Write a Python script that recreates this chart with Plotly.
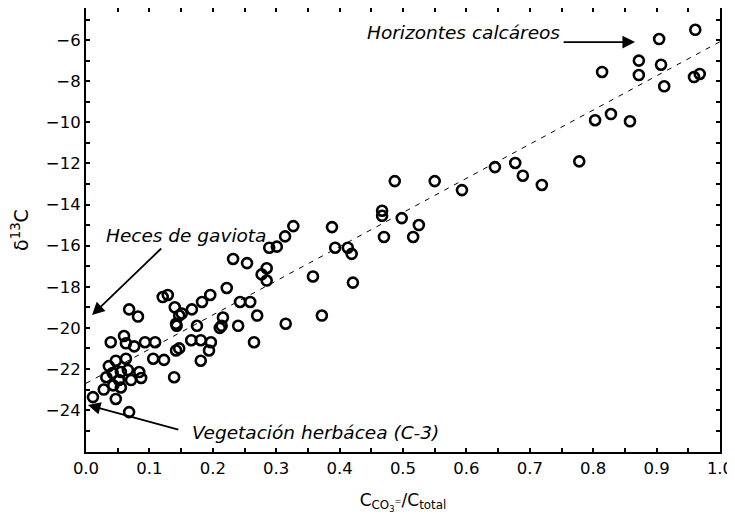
import plotly.graph_objects as go

# Data
x_ratio = [0.961, 0.904, 0.872, 0.907, 0.872, 0.814, 0.959, 0.968, 0.912, 0.803,
           0.828, 0.858, 0.645, 0.677, 0.689, 0.719, 0.778, 0.487, 0.550, 0.593,
           0.467, 0.467, 0.498, 0.525, 0.470, 0.516, 0.388, 0.393, 0.413, 0.419,
           0.421, 0.358, 0.327, 0.314, 0.301, 0.289, 0.232, 0.254, 0.285, 0.277,
           0.285, 0.222, 0.196, 0.183, 0.243, 0.259, 0.270, 0.216, 0.240, 0.214,
           0.175, 0.167, 0.151, 0.140, 0.143, 0.121, 0.129, 0.372, 0.315, 0.265,
           0.068, 0.082, 0.039, 0.060, 0.063, 0.076, 0.093, 0.109, 0.106, 0.123,
           0.139, 0.047, 0.063, 0.036, 0.032, 0.042, 0.055, 0.066, 0.084, 0.087,
           0.071, 0.052, 0.055, 0.043, 0.028, 0.011, 0.047, 0.068, 0.142, 0.147,
           0.181, 0.194, 0.166, 0.181, 0.197, 0.142, 0.147, 0.211]
d13c = [-5.5, -5.95, -7.0, -7.2, -7.7, -7.55, -7.8, -7.65, -8.25, -9.9,
        -9.6, -9.95, -12.18, -11.98, -12.6, -13.05, -11.9, -12.86, -12.86, -13.3,
        -14.3, -14.55, -14.66, -15.0, -15.58, -15.58, -15.1, -16.1, -16.1, -16.4,
        -17.8, -17.5, -15.05, -15.55, -16.05, -16.1, -16.65, -16.85, -17.1, -17.4,
        -17.7, -18.06, -18.4, -18.74, -18.74, -18.74, -19.4, -19.5, -19.9, -19.9,
        -19.9, -19.1, -19.3, -19.0, -19.9, -18.5, -18.4, -19.4, -19.8, -20.7,
        -19.1, -19.45, -20.7, -20.4, -20.75, -20.9, -20.7, -20.7, -21.5, -21.56,
        -22.4, -21.6, -21.5, -21.86, -22.4, -22.2, -22.15, -22.05, -22.15, -22.44,
        -22.54, -22.54, -22.9, -22.8, -23.0, -23.37, -23.46, -24.1, -21.1, -21.0,
        -21.6, -21.1, -20.6, -20.6, -20.7, -19.8, -19.4, -20.0]

fit_x = [0.0, 1.0]
fit_y = [-22.7, -6.08]

x_ticks = [0.0, 0.1, 0.2, 0.3, 0.4, 0.5, 0.6, 0.7, 0.8, 0.9, 1.0]
y_ticks = [-24, -22, -20, -18, -16, -14, -12, -10, -8, -6]

FONT = "DejaVu Sans, Liberation Sans, Arial, sans-serif"

fig = go.Figure()
fig.add_trace(go.Scatter(x=fit_x, y=fit_y, mode="lines",
                         line=dict(color="black", width=1, dash="5px,6px"),
                         hoverinfo="skip", showlegend=False))
fig.add_trace(go.Scatter(x=x_ratio, y=d13c, mode="markers",
                         marker=dict(symbol="circle-open", size=10,
                                     color="black", line=dict(width=2.6, color="black")),
                         showlegend=False))

axis_common = dict(showline=True, linecolor="black", linewidth=2, mirror="ticks",
                   ticks="inside", ticklen=4, tickwidth=1.5, tickcolor="black",
                   showgrid=False, zeroline=False, automargin=False,
                   tickfont=dict(family=FONT, size=16.5, color="black"))

fig.update_xaxes(range=[0, 1.0], tickvals=x_ticks, tickformat=".1f",
                 minor=dict(dtick=0.05, ticks="inside", ticklen=4, tickwidth=1.5, tickcolor="black"),
                 title=dict(text="C<sub>CO<sub>3</sub><sup>=</sup></sub>/C<sub>total</sub>",
                            font=dict(family=FONT, size=17, color="black"), standoff=17),
                 **axis_common)
fig.update_yaxes(range=[-26.04, -4.44], tickvals=y_ticks,
                 minor=dict(dtick=1, tick0=-25, ticks="inside", ticklen=4, tickwidth=1.5, tickcolor="black"),
                 title=dict(text="δ<sup>13</sup>C",
                            font=dict(family=FONT, size=19, color="black"), standoff=15),
                 **axis_common)

ann_font = dict(family=FONT, size=18.5, color="black")
# text labels
fig.add_annotation(x=0.751, y=-5.62, text="<i>Horizontes calcáreos</i>", showarrow=False,
                   xanchor="right", font=ann_font)
fig.add_annotation(x=0.028, y=-15.53, text="<i>Heces de gaviota</i>", showarrow=False,
                   xanchor="left", font=ann_font)
fig.add_annotation(x=0.164, y=-25.07, text="<i>Vegetación herbácea (C-3)</i>", showarrow=False,
                   xanchor="left", font=ann_font)
# arrows
for (hx, hy, tx, ty) in [(0.866, -6.1, 0.751, -6.1),
                         (0.0095, -19.38, 0.121, -16.07),
                         (0.003, -23.75, 0.148, -24.97)]:
    fig.add_annotation(x=hx, y=hy, ax=tx, ay=ty, xref="x", yref="y", axref="x", ayref="y",
                       text="", showarrow=True, arrowhead=2, arrowsize=1.4, arrowwidth=1.8,
                       arrowcolor="black")

# page body has an 8px default margin, so the figure is sized to fit the 735x527 window
fig.update_layout(width=727, height=519, plot_bgcolor="white", paper_bgcolor="white",
                  margin=dict(l=78, r=15, t=0, b=75),
                  font=dict(family=FONT, color="black"))

fig.write_html("out.html")
